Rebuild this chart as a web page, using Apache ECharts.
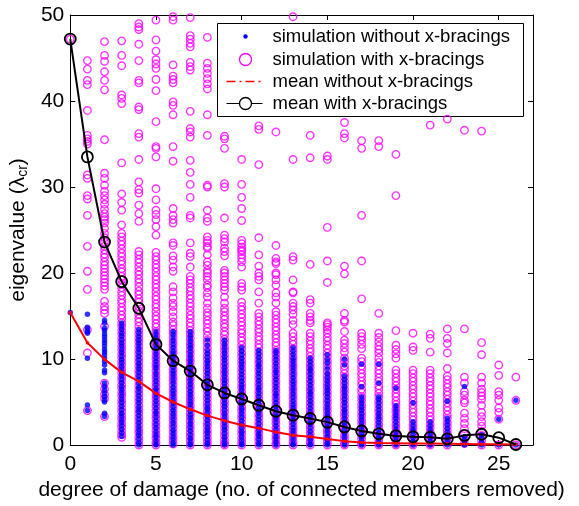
<!DOCTYPE html>
<html>
<head>
<meta charset="utf-8">
<script src="https://cdn.jsdelivr.net/npm/echarts@6/dist/echarts.min.js"></script>
<style>
  html, body { margin: 0; padding: 0; background: #fff; }
  #chart { width: 579px; height: 506px; }
</style>
</head>
<body>
<div id="chart"></div>
<script>
// Degree of damage (number of connected members removed)
const damageDegrees = [0,1,2,3,4,5,6,7,8,9,10,11,12,13,14,15,16,17,18,19,20,21,22,23,24,25,26];

// Mean critical eigenvalue per degree of damage
const meanWithBracings = [47.2,33.5,23.6,19.0,15.9,11.7,9.8,8.6,7.0,6.05,5.35,4.62,3.93,3.47,3.08,2.66,2.1,1.63,1.3,1.06,0.95,0.9,0.72,1.12,1.25,0.85,0.06];
const meanWithoutBracings = [15.4,11.9,9.96,8.45,7.4,6.0,5.0,4.15,3.42,2.83,2.33,1.96,1.5,1.14,0.95,0.7,0.45,0.3,0.22,0.2,0.18,0.16,0.14,0.12,0.1,0.08,0.05];

// Simulated eigenvalues with x-bracings, one list per degree of damage
const simWithBracings = [
  [47.2],
  [44.7,43.7,42.4,41.9,38.9,36.0,35.6,35.3,35.0,31.4,31.0,29.0,28.6,26.7,23.1,20.2,18.1,13.4,10.7,4.0],
  [46.9,45.3,44.6,43.4,42.4,41.3,35.5,31.6,31.0,30.2,29.5,29.0,28.5,28.0,27.4,26.9,26.5,26.2,25.8,25.2,24.6,24.1,23.6,23.1,22.7,22.2,21.8,21.3,20.9,20.5,20.1,19.7,19.3,18.9,18.5,18.1,16.7,16.1,15.7,15.3,13.8,7.2,6.5,5.9,5.4,3.3],
  [47.0,45.3,44.1,40.7,40.3,39.7,32.8,29.2,28.2,27.3,25.6,24.6,24.2,23.7,23.3,22.8,22.3,21.9,21.4,21.0,20.5,20.1,19.6,19.2,18.7,18.3,17.8,17.4,16.9,16.5,16.0,15.6,15.1,14.7,14.2,13.8,13.3,12.9,12.4,12.0,11.5,11.1,10.6,10.2,9.7,9.3,8.8,8.4,7.9,7.5,7.0,6.6,6.1,5.7,5.2,4.8,4.3,3.9,3.4,3.0,2.5,2.1,1.6,1.2,0.9],
  [49.0,48.6,48.3,46.6,44.7,42.4,42.1,39.3,39.0,36.2,35.8,33.2,30.6,29.7,29.3,27.9,26.9,26.0,22.5,22.1,21.6,21.2,20.7,20.2,19.8,19.3,18.9,18.4,17.9,17.5,17.0,16.6,16.1,15.6,15.2,14.7,14.3,13.8,13.3,12.9,12.4,12.0,11.5,11.0,10.6,10.1,9.7,9.2,8.7,8.3,7.8,7.4,6.9,6.4,6.0,5.5,5.1,4.6,4.1,3.7,3.2,2.8,2.3,1.8,1.4,0.9,0.5,0],
  [49.4,47.1,45.8,44.8,44.3,43.8,42.5,41.2,37.6,34.7,34.5,33.5,29.8,28.5,27.3,26.8,26.2,25.4,24.4,22.4,21.9,21.5,21.0,20.6,20.1,19.6,19.2,18.7,18.3,17.8,17.3,16.9,16.4,16.0,15.5,15.0,14.6,14.1,13.7,13.2,12.7,12.3,11.8,11.4,10.9,10.4,10.0,9.5,9.1,8.6,8.1,7.7,7.2,6.8,6.3,5.8,5.4,4.9,4.5,4.0,3.5,3.1,2.6,2.2,1.7,1.2,0.8,0.3,0],
  [49.8,49.4,44.2,42.9,42.5,42.1,39.9,39.5,38.4,34.7,33.0,27.5,26.7,26.2,25.8,23.5,23.2,22.0,21.5,20.7,20.2,18.4,17.8,17.1,16.5,16.1,15.5,14.9,14.3,13.9,13.4,13.0,12.5,12.0,11.6,11.1,10.7,10.2,9.8,9.3,8.8,8.4,7.9,7.5,7.0,6.5,6.1,5.6,5.2,4.7,4.3,3.8,3.3,2.9,2.4,2.0,1.5,1.0,0.6,0.1],
  [49.7,47.6,47.2,46.7,46.3,44.5,44.0,43.6,38.8,36.8,36.4,35.8,33.1,31.7,30.3,28.8,26.7,26.4,23.5,22.3,21.9,20.7,19.6,19.2,18.8,18.3,17.9,17.4,17.0,16.5,16.1,15.6,15.1,14.7,14.2,13.8,13.3,12.9,12.4,11.9,11.5,11.0,10.6,10.1,9.7,9.2,8.7,8.3,7.8,7.4,6.9,6.5,6.0,5.5,5.1,4.6,4.2,3.7,3.3,2.8,2.3,1.9,1.4,1.0,0.5,0],
  [47.4,44.4,43.8,43.2,42.6,42.0,41.4,38.4,36.0,30.2,30.0,27.3,26.4,26.0,24.2,23.8,23.5,23.1,22.9,22.1,21.3,20.9,20.3,20.0,19.6,19.2,18.6,18.3,17.7,17.2,16.5,15.9,15.4,15.0,14.5,14.1,13.6,13.2,12.7,12.2,11.8,11.3,10.9,10.4,10.0,9.5,9.0,8.6,8.1,7.7,7.2,6.8,6.3,5.8,5.4,4.9,4.5,4.0,3.6,3.1,2.6,2.2,1.7,1.3,0.8,0.4,0],
  [35.9,35.6,34.5,30.4,30.0,26.4,24.4,24.0,23.6,22.9,22.5,22.0,20.3,20.0,19.6,19.2,18.8,18.4,18.0,17.2,16.5,15.9,15.5,15.0,14.6,14.1,13.7,13.2,12.8,12.3,11.9,11.4,11.0,10.5,10.1,9.6,9.2,8.7,8.3,7.8,7.4,6.9,6.5,6.0,5.6,5.1,4.7,4.2,3.8,3.3,2.9,2.4,2.0,1.5,1.1,0.6,0.2,0],
  [33.2,30.3,28.8,27.5,26.1,23.8,23.4,23.0,22.7,22.5,22.1,21.7,21.3,20.7,18.8,18.4,18.0,16.6,16.1,15.7,15.2,14.8,14.3,13.9,13.4,13.0,12.5,12.1,11.6,11.2,10.7,10.3,9.8,9.4,8.9,8.5,8.0,7.6,7.1,6.7,6.2,5.8,5.3,4.9,4.4,4.0,3.5,3.1,2.6,2.2,1.7,1.3,0.8,0.4,0],
  [37.1,36.7,32.6,24.1,22.1,20.8,20.0,19.6,19.2,17.8,16.5,15.3,14.9,14.4,14.0,13.5,13.1,12.6,12.2,11.7,11.3,10.8,10.4,9.9,9.5,9.0,8.6,8.1,7.7,7.2,6.8,6.3,5.9,5.4,5.0,4.5,4.1,3.6,3.2,2.7,2.3,1.8,1.4,0.9,0.5,0],
  [36.4,23.2,21.7,21.3,21.1,20.0,19.8,19.2,18.6,17.7,17.2,16.5,15.5,15.1,14.6,14.2,13.7,13.3,12.8,12.4,11.9,11.5,11.0,10.6,10.1,9.7,9.2,8.8,8.3,7.9,7.4,7.0,6.5,6.1,5.6,5.2,4.7,4.3,3.8,3.4,2.9,2.5,2.0,1.6,1.1,0.7,0.2,0],
  [49.8,33.2,21.9,21.5,19.2,17.8,17.7,16.5,16.1,15.7,15.2,14.5,14.0,13.0,12.6,12.1,11.7,11.2,10.8,10.3,9.9,9.4,9.0,8.5,8.1,7.6,7.2,6.7,6.3,5.8,5.4,4.9,4.5,4.0,3.6,3.1,2.7,2.2,1.8,1.3,0.9,0.4,0],
  [36.0,33.4,21.0,16.9,16.5,15.3,14.9,14.5,14.2,13.0,12.6,12.1,11.7,11.2,10.8,10.3,9.9,9.4,9.0,8.5,8.1,7.6,7.2,6.7,6.3,5.8,5.4,4.9,4.5,4.0,3.6,3.1,2.7,2.2,1.8,1.3,0.9,0.4,0],
  [33.6,33.2,25.3,21.4,18.9,14.2,14.0,13.7,13.4,13.0,12.5,12.1,11.6,11.2,10.7,10.3,9.8,9.4,8.9,8.5,8.0,7.6,7.1,6.7,6.2,5.8,5.3,4.9,4.4,4.0,3.5,3.1,2.6,2.2,1.7,1.3,0.8,0.4,0],
  [37.5,36.2,35.7,20.8,19.9,15.3,14.5,14.3,13.2,12.2,11.8,11.3,10.8,10.1,9.7,9.2,8.8,8.3,7.9,7.4,7.0,6.5,6.1,5.6,5.2,4.7,4.3,3.8,3.4,2.9,2.5,2.0,1.6,1.1,0.7,0.2,0],
  [35.4,34.5,26.7,21.4,17.0,13.0,12.6,12.2,11.7,11.2,10.1,9.7,9.2,8.8,8.3,7.9,7.4,7.0,6.5,6.1,5.6,5.2,4.7,4.3,3.8,3.4,2.9,2.5,2.0,1.6,1.1,0.7,0.2,0],
  [35.4,34.7,15.3,13.0,12.5,12.0,11.5,11.1,10.7,10.1,9.6,9.2,8.7,8.3,7.8,7.4,6.9,6.5,6.0,5.6,5.1,4.7,4.2,3.8,3.3,2.9,2.4,2.0,1.5,1.1,0.6,0.2,0],
  [33.8,29.0,13.3,11.6,11.1,10.6,10.1,8.7,8.3,7.8,7.4,6.9,6.5,6.0,5.6,5.1,4.7,4.2,3.8,3.3,2.9,2.4,2.0,1.5,1.1,0.6,0.2,0],
  [13.0,11.4,11.0,8.7,8.3,7.8,7.4,6.9,6.5,6.0,5.6,5.1,4.7,4.2,3.8,3.3,2.9,2.4,2.0,1.5,1.1,0.6,0.2,0],
  [37.2,12.9,12.4,10.8,8.7,8.3,7.8,7.4,6.9,6.5,6.0,5.6,5.1,4.7,4.2,3.8,3.3,2.9,2.4,2.0,1.5,1.1,0.6,0.2,0],
  [37.9,13.5,12.4,11.8,10.7,8.9,8.0,7.6,7.1,6.7,6.2,5.8,5.3,4.9,4.4,4.0,3.5,3.1,2.6,2.2,1.7,1.3,0.8,0.4,0],
  [36.6,13.5,7.9,7.2,6.2,5.8,5.2,4.9,3.7,3.1,2.5,1.9,1.3,0.7,0.2],
  [36.5,11.9,10.5,7.9,7.2,6.5,6.1,5.7,5.3,4.6,3.8,3.3,2.7,2.2,1.6,1.1,0.5,0],
  [9.3,8.1,6.2,5.8,5.2,4.3,3.8,3.0,0],
  [7.9,5.2,0]
];

// Simulated eigenvalues without x-bracings, one list per degree of damage
const simWithoutBracings = [
  [15.4],
  [15.2,13.7,13.4,13.2,13.0,10.1,4.65,4.0],
  [14.5,14.2,13.6,13.3,12.9,12.6,12.2,11.9,11.5,11.1,10.8,10.5,10.1,9.7,9.3,8.7,8.4,7.2,6.8,6.4,6.0,5.6,5.3,5.0,3.7,3.3],
  [14.2,13.8,13.4,13.0,12.7,12.3,11.9,11.5,11.1,10.7,10.3,9.9,9.6,9.2,8.8,8.4,8.0,7.6,7.2,6.8,6.5,6.1,5.7,5.3,4.9,4.5,4.1,3.7,3.4,3.0,2.6,2.2,1.8,1.4,1.0],
  [13.4,13.0,12.6,12.2,11.9,11.5,11.1,10.7,10.3,9.9,9.5,9.2,8.8,8.4,8.0,7.6,7.2,6.8,6.5,6.1,5.7,5.3,4.9,4.5,4.1,3.8,3.4,3.0,2.6,2.2,1.8,1.4,1.1,0.7,0.3,0],
  [13.2,12.8,12.4,12.0,11.7,11.3,10.9,10.5,10.1,9.7,9.3,9.0,8.6,8.2,7.8,7.4,7.0,6.6,6.3,5.9,5.5,5.1,4.7,4.3,3.9,3.6,3.2,2.8,2.4,2.0,1.6,1.2,0.9,0.5,0.1,0],
  [13.2,12.9,12.5,12.1,11.7,11.3,10.9,10.6,10.2,9.8,9.4,9.0,8.6,8.3,7.9,7.5,7.1,6.7,6.3,6.0,5.6,5.2,4.8,4.4,4.0,3.7,3.3,2.9,2.5,2.1,1.7,1.4,1.0,0.6,0.2,0],
  [13.2,12.8,12.4,12.0,11.6,11.3,10.9,10.5,10.1,9.7,9.3,8.9,8.6,8.2,7.8,7.4,7.0,6.6,6.2,5.9,5.5,5.1,4.7,4.3,3.9,3.5,3.2,2.8,2.4,2.0,1.6,1.2,0.8,0.5,0.1,0],
  [12.2,11.6,11.0,10.6,10.2,9.8,9.5,9.1,8.7,8.3,7.9,7.5,7.1,6.8,6.4,6.0,5.6,5.2,4.8,4.4,4.1,3.7,3.3,2.9,2.5,2.1,1.7,1.4,1.0,0.6,0.2,0],
  [12.2,11.8,11.4,11.0,10.6,10.2,9.9,9.5,9.1,8.7,8.3,7.9,7.5,7.2,6.8,6.4,6.0,5.6,5.2,4.8,4.5,4.1,3.7,3.3,2.9,2.5,2.1,1.8,1.4,1.0,0.6,0.2,0],
  [11.3,10.9,10.5,10.1,9.7,9.4,9.0,8.6,8.2,7.8,7.4,7.0,6.7,6.3,5.9,5.5,5.1,4.7,4.3,4.0,3.6,3.2,2.8,2.4,2.0,1.6,1.3,0.9,0.5,0.1,0],
  [11.0,10.6,10.2,9.8,9.4,9.1,8.7,8.3,7.9,7.5,7.1,6.7,6.4,6.0,5.6,5.2,4.8,4.4,4.0,3.7,3.3,2.9,2.5,2.1,1.7,1.3,1.0,0.6,0.2,0],
  [11.0,10.7,10.3,9.9,9.5,9.1,8.7,8.4,8.0,7.6,7.2,6.8,6.4,6.0,5.7,5.3,4.9,4.5,4.1,3.7,3.3,3.0,2.6,2.2,1.8,1.4,1.0,0.7,0.3,0],
  [11.3,10.9,10.5,10.1,9.8,9.4,9.0,8.6,8.2,7.8,7.4,7.1,6.7,6.3,5.9,5.5,5.1,4.7,4.4,4.0,3.6,3.2,2.8,2.4,2.0,1.7,1.3,0.9,0.5,0.1,0],
  [10.1,9.7,9.3,8.9,8.6,8.2,7.8,7.4,7.0,6.6,6.2,5.9,5.5,5.1,4.7,4.3,3.9,3.5,3.2,2.8,2.4,2.0,1.6,1.2,0.8,0.5,0.1,0],
  [10.5,9.9,9.5,8.9,8.3,7.9,7.5,7.1,6.7,6.3,6.0,5.6,5.2,4.8,4.4,4.0,3.6,3.3,2.9,2.5,2.1,1.7,1.3,0.9,0.6,0.2,0],
  [10.0,9.3,8.0,7.6,7.2,6.8,6.5,6.1,5.7,5.3,4.9,4.5,4.1,3.8,3.4,3.0,2.6,2.2,1.8,1.4,1.1,0.7,0.3,0],
  [9.4,6.8,5.6,5.2,4.8,4.4,4.1,3.7,3.3,2.9,2.5,2.1,1.7,1.4,1.0,0.6,0.2,0],
  [9.4,7.2,5.6,5.3,4.9,4.5,4.1,3.7,3.3,3.0,2.6,2.2,1.8,1.4,1.0,0.7,0.3,0],
  [6.6,4.6,4.2,3.8,3.4,3.1,2.7,2.3,1.9,1.5,1.1,0.8,0.4,0],
  [4.9,2.7,2.3,1.9,1.6,1.2,0.8,0.4,0],
  [2.7,2.3,1.9,1.5,1.2,0.8,0.4,0],
  [5.1,3.1,2.7,2.3,1.9,1.5,1.1,0.8,0.4,0],
  [6.8,1.0,0.6,0.2,0],
  [1.2,0.8,0.4,0],
  [3.0,0],
  [5.2,0]
];

const legendLabels = [
  'simulation without x-bracings',
  'simulation with x-bracings',
  'mean without x-bracings',
  'mean with x-bracings'
];

const FONT = '"Liberation Sans", Arial, Helvetica, sans-serif';

function toPoints(lists) {
  const pts = [];
  lists.forEach((vals, i) => {
    vals.forEach(v => pts.push([damageDegrees[i], v]));
  });
  return pts;
}

const chart = echarts.init(document.getElementById('chart'), null, { renderer: 'canvas' });

const axisCommon = {
  type: 'value',
  axisLine: { show: true, onZero: false, lineStyle: { color: '#000', width: 1 } },
  axisTick: { show: true, inside: true, length: 5, lineStyle: { color: '#000', width: 1 } },
  splitLine: { show: false }
};

// Legend drawn as a boxed panel in the upper right of the plot
const legX = 217, legY = 23, legW = 306, legH = 93;
const rowY = [13, 36, 58, 80];
const iconCx = 28;
const textX = 55;
const legendElements = [
  { type: 'rect', shape: { x: 0, y: 0, width: legW, height: legH },
    style: { fill: '#fff', stroke: '#000', lineWidth: 1 } },
  { type: 'circle', shape: { cx: iconCx, cy: rowY[0], r: 2.2 }, style: { fill: '#0000ff' } },
  { type: 'circle', shape: { cx: iconCx, cy: rowY[1], r: 6 }, style: { fill: 'none', stroke: '#ff00ff', lineWidth: 1.3 } },
  { type: 'line', shape: { x1: 9, y1: rowY[2], x2: 45, y2: rowY[2] },
    style: { stroke: '#ff0000', lineWidth: 1.5, lineDash: [9, 4, 2, 4] } },
  { type: 'line', shape: { x1: 9, y1: rowY[3], x2: 45, y2: rowY[3] }, style: { stroke: '#000000', lineWidth: 1.2 } },
  { type: 'circle', shape: { cx: iconCx, cy: rowY[3], r: 6 }, style: { fill: '#ffffff', stroke: '#000000', lineWidth: 1.3 } }
];
legendLabels.forEach((t, i) => {
  legendElements.push({
    type: 'text', x: textX, y: rowY[i],
    style: { text: t, fill: '#000', font: '18.5px ' + FONT, textVerticalAlign: 'middle', textAlign: 'left' }
  });
});

const option = {
  animation: false,
  backgroundColor: '#fff',
  textStyle: { fontFamily: FONT },
  grid: { left: 68, right: 46, top: 15, bottom: 61, show: false },
  xAxis: [
    Object.assign({}, axisCommon, {
      min: 0, max: 27, interval: 5, position: 'bottom',
      axisLabel: { color: '#000', fontSize: 21, fontFamily: FONT, margin: 9, showMaxLabel: false },
      name: 'degree of damage (no. of connected members removed)',
      nameLocation: 'middle', nameGap: 34,
      nameTextStyle: { color: '#000', fontSize: 21, fontFamily: FONT }
    }),
    Object.assign({}, axisCommon, {
      min: 0, max: 27, interval: 5, position: 'top',
      axisLabel: { show: false }
    })
  ],
  yAxis: [
    Object.assign({}, axisCommon, {
      min: 0, max: 50, interval: 10, position: 'left',
      axisLabel: { color: '#000', fontSize: 21, fontFamily: FONT, margin: 6 },
      name: 'eigenvalue (λ{sub|cr})',
      nameLocation: 'middle', nameGap: 36, nameRotate: 90,
      nameTextStyle: {
        color: '#000', fontSize: 21, fontFamily: FONT,
        rich: { sub: { fontSize: 14, fontFamily: FONT, color: '#000', padding: [9, 0, 0, 0] } }
      }
    }),
    Object.assign({}, axisCommon, {
      min: 0, max: 50, interval: 10, position: 'right',
      axisLabel: { show: false }
    })
  ],
  graphic: [{ type: 'group', left: legX, top: legY, z: 100, children: legendElements }],
  series: [
    {
      name: legendLabels[1], type: 'scatter', clip: false, z: 2,
      symbol: 'circle', symbolSize: 7.5,
      itemStyle: { color: 'rgba(0,0,0,0)', borderColor: '#ff00ff', borderWidth: 1.35 },
      data: toPoints(simWithBracings)
    },
    {
      name: legendLabels[0], type: 'scatter', clip: false, z: 3,
      symbol: 'circle', symbolSize: 5.5,
      itemStyle: { color: '#0000ff' },
      data: toPoints(simWithoutBracings)
    },
    {
      name: legendLabels[2], type: 'line', clip: false, z: 4,
      symbol: 'circle', symbolSize: 3.5, showAllSymbol: true,
      itemStyle: { color: '#ff0000' },
      lineStyle: { color: '#ff0000', width: 2 },
      data: damageDegrees.map((d, i) => [d, meanWithoutBracings[i]])
    },
    {
      name: legendLabels[3], type: 'line', clip: false, z: 5,
      symbol: 'circle', symbolSize: 11, showAllSymbol: true,
      itemStyle: { color: 'rgba(0,0,0,0)', borderColor: '#000', borderWidth: 1.8 },
      lineStyle: { color: '#000', width: 2 },
      data: damageDegrees.map((d, i) => [d, meanWithBracings[i]])
    }
  ]
};

chart.setOption(option);
</script>
</body>
</html>
